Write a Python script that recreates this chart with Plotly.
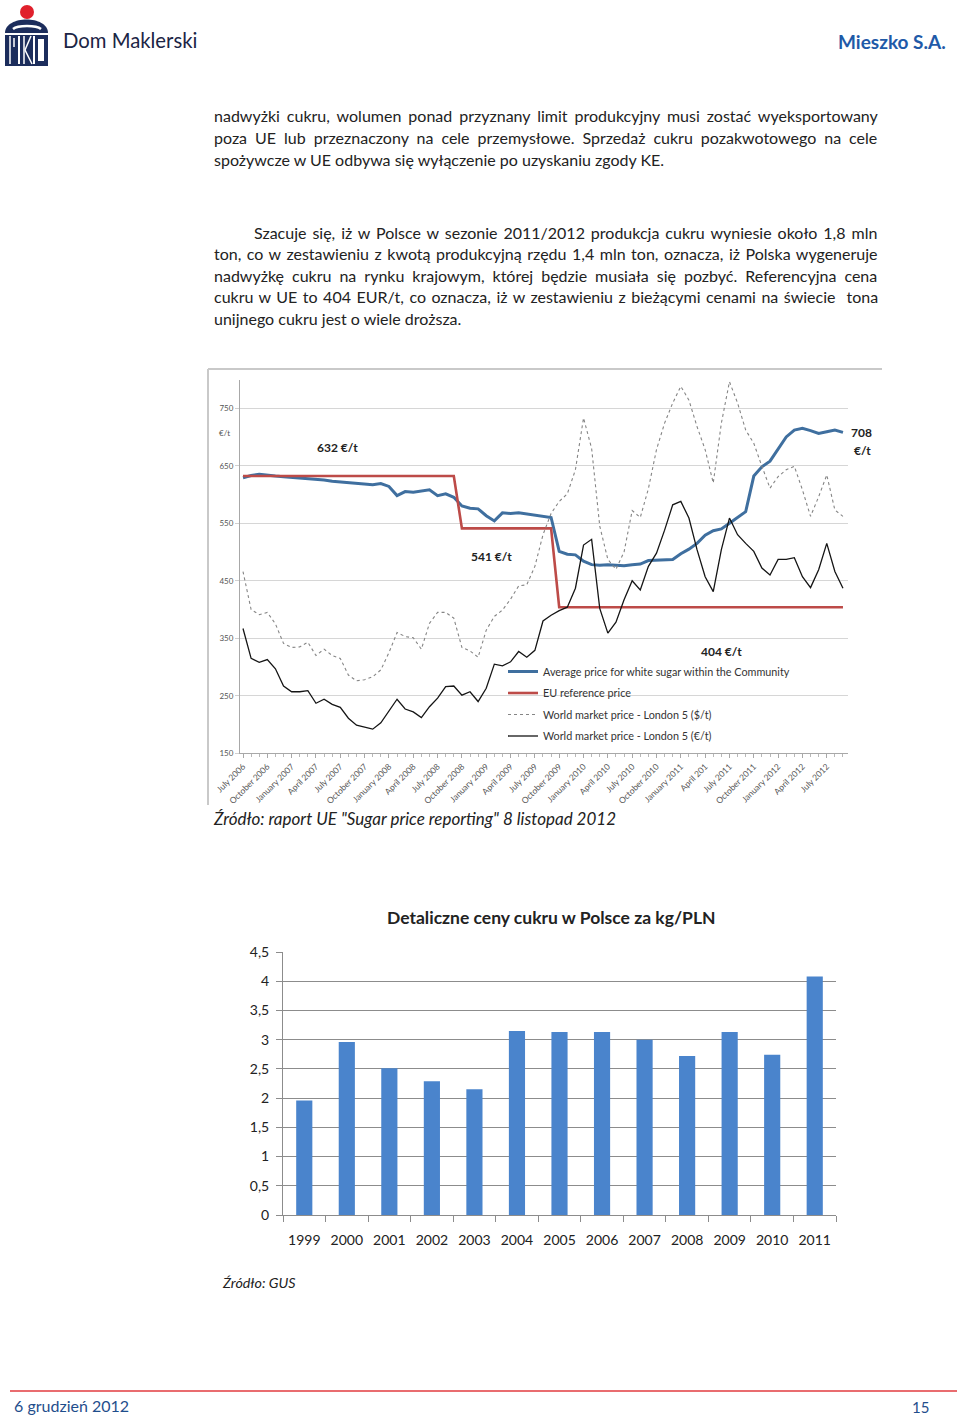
import plotly.graph_objects as go

W, H = 960, 1419

def px(x):
    return x / W

def py(y):
    return 1 - y / H

# ---------------- data: line chart (monthly, July 2006 .. September 2012) ----------------
months = list(range(75))
tick_positions = list(range(0, 73, 3))
tick_labels = ["July 2006", "October 2006", "January 2007", "April 2007", "July 2007",
               "October 2007", "January 2008", "April 2008", "July 2008", "October 2008",
               "January 2009", "April 2009", "July 2009", "October 2009", "January 2010",
               "April 2010", "July 2010", "October 2010", "January 2011", "April 201",
               "July 2011", "October 2011", "January 2012", "April 2012", "July 2012"]

eu_avg_price = [629, 633, 635, 633, 632, 631, 630, 629, 628, 627,
                625, 623, 622, 621, 620, 618, 617, 619, 614, 598,
                605, 604, 606, 608, 598, 601, 595, 580, 576, 575,
                563, 554, 568, 567, 568, 566, 565, 563, 560, 501,
                496, 495, 484, 478, 477, 478, 477, 476, 478, 479,
                485, 486, 487, 487, 497, 505, 515, 529, 537, 540,
                550, 560, 570, 632, 648, 658, 680, 700, 712, 715,
                711, 706, 709, 712, 708]

eu_reference_price = [632] * 27 + [541] * 12 + [404] * 36

world_usd = [466, 400, 391, 395, 375, 341, 334, 335, 343, 320,
             331, 320, 315, 286, 276, 278, 283, 295, 325, 360,
             353, 351, 331, 376, 395, 395, 385, 334, 328, 317,
             364, 388, 399, 418, 441, 443, 475, 530, 567, 588,
             601, 643, 733, 680, 545, 487, 470, 500, 572, 560,
             610, 678, 724, 759, 788, 764, 718, 678, 620, 724,
             796, 759, 712, 689, 649, 611, 631, 643, 649, 608,
             562, 596, 634, 573, 562]

world_eur = [367, 315, 308, 313, 297, 267, 257, 257, 259, 237,
             244, 235, 230, 211, 199, 196, 192, 203, 224, 244,
             227, 222, 212, 231, 246, 266, 267, 251, 257, 240,
             263, 305, 302, 309, 327, 317, 329, 380, 390, 398,
             404, 437, 512, 522, 402, 359, 378, 417, 450, 434,
             475, 498, 538, 582, 588, 559, 504, 457, 431, 504,
             559, 530, 515, 501, 472, 460, 487, 487, 490, 457,
             438, 469, 515, 466, 437]

y_ticks_line = [150, 250, 350, 450, 550, 650, 750]

# ---------------- data: bar chart ----------------
years = ["1999", "2000", "2001", "2002", "2003", "2004", "2005",
         "2006", "2007", "2008", "2009", "2010", "2011"]
retail_prices = [1.96, 2.96, 2.51, 2.29, 2.15, 3.15, 3.13, 3.13, 3.00, 2.72, 3.13, 2.74, 4.08]
bar_ticks = [0, 0.5, 1, 1.5, 2, 2.5, 3, 3.5, 4, 4.5]
bar_tick_text = ["0", "0,5", "1", "1,5", "2", "2,5", "3", "3,5", "4", "4,5"]

# ---------------- page text (line, extra word spacing for justification) ----------------
para1 = [("nadwyżki cukru, wolumen ponad przyznany limit produkcyjny musi zostać wyeksportowany", 2.9),
         ("poza UE lub przeznaczony na cele przemysłowe. Sprzedaż cukru pozakwotowego na cele", 3.9),
         ("spożywcze w UE odbywa się wyłączenie po uzyskaniu zgody KE.", 0)]
para2 = [("Szacuje się, iż w Polsce w sezonie 2011/2012 produkcja cukru wyniesie około 1,8 mln", 1.85),
         ("ton, co w zestawieniu z kwotą produkcyjną rzędu 1,4 mln ton, oznacza, iż Polska wygeneruje", 1.43),
         ("nadwyżkę cukru na rynku krajowym, której będzie musiała się pozbyć. Referencyjna cena", 3.9),
         ("cukru w UE to 404 EUR/t, co oznacza, iż w zestawieniu z bieżącymi cenami na świecie  tona", 1.4),
         ("unijnego cukru jest o wiele droższa.", 0)]

BODY_FONT = "Lato"
fig = go.Figure()

# ---------------- line chart traces ----------------
fig.add_trace(go.Scatter(x=months, y=eu_avg_price, mode="lines",
                         name="Average price for white sugar within the Community",
                         line=dict(color="#3f6f9f", width=3), legendgroup="a",
                         xaxis="x", yaxis="y"))
fig.add_trace(go.Scatter(x=months, y=eu_reference_price, mode="lines",
                         name="EU reference price",
                         line=dict(color="#bd4b48", width=2.6), legendgroup="b",
                         xaxis="x", yaxis="y"))
fig.add_trace(go.Scatter(x=months, y=world_usd, mode="lines",
                         name="World market price - London 5 ($/t)",
                         line=dict(color="#858585", width=1.1, dash="dot"), legendgroup="c",
                         xaxis="x", yaxis="y"))
fig.add_trace(go.Scatter(x=months, y=world_eur, mode="lines",
                         name="World market price - London 5 (€/t)",
                         line=dict(color="#151515", width=1.3), legendgroup="d",
                         xaxis="x", yaxis="y"))

# ---------------- bar chart ----------------
fig.add_trace(go.Bar(x=years, y=retail_prices, marker=dict(color="#4a84cc", line=dict(width=0)),
                     width=0.38, showlegend=False, xaxis="x2", yaxis="y2"))

fig.update_layout(
    width=W, height=H,
    margin=dict(l=0, r=0, t=0, b=0, pad=0, autoexpand=False),
    paper_bgcolor="white", plot_bgcolor="rgba(0,0,0,0)",
    font=dict(family=BODY_FONT, color="#222"),
    showlegend=True,
    legend=dict(x=px(503), y=py(657), xanchor="left", yanchor="top",
                bgcolor="rgba(0,0,0,0)", font=dict(size=10.8, color="#333", family=BODY_FONT),
                tracegroupgap=2.5, itemwidth=30),
    xaxis=dict(domain=[px(240), px(848)], range=[-0.37, 74.62], automargin=False,
               tickmode="array", tickvals=tick_positions, ticktext=tick_labels,
               tickangle=-45, tickfont=dict(size=8.5, color="#555"),
               showline=True, linecolor="#a8a8a8", linewidth=1,
               ticks="outside", ticklen=4, tickcolor="#a8a8a8",
               minor=dict(dtick=1, ticks="outside", ticklen=3, tickcolor="#b8b8b8"),
               showgrid=False, zeroline=False, fixedrange=True),
    yaxis=dict(domain=[py(753.3), py(380)], range=[150, 799], automargin=False,
               tickmode="array", tickvals=y_ticks_line,
               tickfont=dict(size=8, color="#555"),
               showline=True, linecolor="#a8a8a8", linewidth=1,
               ticks="outside", ticklen=4, tickcolor="#d0d0d0",
               showgrid=True, gridcolor="#d6d6d6", gridwidth=1,
               zeroline=False, fixedrange=True),
    xaxis2=dict(domain=[px(283), px(836)], type="category", range=[-0.5, 12.5], automargin=False,
                tickangle=0, tickfont=dict(size=14, color="#222"), ticklabelstandoff=12,
                showline=True, linecolor="#8c8c8c", linewidth=1,
                ticks="outside", tickson="boundaries", ticklen=6, tickcolor="#8c8c8c",
                showgrid=False, zeroline=False, fixedrange=True, anchor="y2"),
    yaxis2=dict(domain=[py(1215), py(952)], range=[0, 4.5], automargin=False,
                tickmode="array", tickvals=bar_ticks, ticktext=bar_tick_text,
                tickfont=dict(size=14, color="#222"), ticklabelstandoff=4,
                showline=True, linecolor="#8c8c8c", linewidth=1,
                ticks="outside", ticklen=6, tickcolor="#8c8c8c",
                showgrid=True, gridcolor="#8c8c8c", gridwidth=1,
                zeroline=False, fixedrange=True, anchor="x2"),
    bargap=0.6,
)

annotations = []

def text(x, y, s, size, color="#222", anchor="left", bold=False, italic=False, family=BODY_FONT, yanchor="middle"):
    if bold:
        s = "<b>" + s + "</b>"
    if italic:
        s = "<i>" + s + "</i>"
    annotations.append(dict(x=px(x), y=py(y), xref="paper", yref="paper", text=s,
                            showarrow=False, xanchor=anchor, yanchor=yanchor,
                            font=dict(size=size, color=color, family=family)))

# header
text(61, 40, "Dom Maklerski", 20.3, color="#1b2545")
text(948, 41, "Mieszko S.A.", 19, color="#1f5aa8", anchor="right", bold=True)

# paragraphs
def body_line(x, y, s, ws):
    if ws > 0:
        s = '<span style="word-spacing:%.2fpx">%s</span>' % (ws, s)
    text(x, y, s, 16)

for k, (line, ws) in enumerate(para1):
    body_line(212, 116 + k * 21.5, line, ws)
for k, (line, ws) in enumerate(para2):
    body_line(252 if k == 0 else 212, 232 + k * 21.5, line, ws)

# line chart annotations
text(224, 433, "€/t", 8, color="#555", anchor="center")
text(337, 447, "632 €/t", 12, anchor="center", bold=True)
text(491, 556, "541 €/t", 12, anchor="center", bold=True)
text(721, 651, "404 €/t", 12, anchor="center", bold=True)
text(861, 432, "708", 12, anchor="center", bold=True)
text(862, 450, "€/t", 12, anchor="center", bold=True)
text(211, 818, "Źródło: raport UE \"Sugar price reporting\" 8 listopad 2012", 17, italic=True)

# bar chart text
text(551, 917, "Detaliczne ceny cukru w Polsce za kg/PLN", 17.5, anchor="center", bold=True)
text(220, 1282, "Źródło: GUS", 14.3, italic=True)

# footer
text(12, 1405, "6 grudzień 2012", 16, color="#1f4e8c")
text(931, 1407, "15", 15, color="#1f4e8c", anchor="right")

fig.update_layout(annotations=annotations)

shapes = []

def pline(x0, y0, x1, y1, color, width):
    shapes.append(dict(type="line", xref="paper", yref="paper",
                       x0=px(x0), y0=py(y0), x1=px(x1), y1=py(y1),
                       line=dict(color=color, width=width)))

# chart image frame
pline(208, 369, 882, 369, "#c9c9c9", 2)
pline(208, 369, 208, 805, "#c9c9c9", 2)

# footer rule
pline(10, 1391, 957, 1391, "#e23b3f", 1.6)

# logo
shapes.append(dict(type="circle", xref="paper", yref="paper",
                   x0=px(20), y0=py(19), x1=px(34), y1=py(5),
                   fillcolor="#e0202c", line=dict(width=0)))

logo_path = "M {a},{b} C {c},{d} {e},{f} {g},{h} L {i},{j} L {k},{l} Z".format(
    a=px(5), b=py(33), c=px(5), d=py(15), e=px(48), f=py(15), g=px(48), h=py(33),
    i=px(48), j=py(66), k=px(5), l=py(66))
shapes.append(dict(type="path", xref="paper", yref="paper", path=logo_path,
                   fillcolor="#1c2d5c", line=dict(width=0)))
slot = "M {a},{b} C {c},{d} {e},{f} {g},{h}".format(
    a=px(13), b=py(29), c=px(18), d=py(25), e=px(36), f=py(25), g=px(41), h=py(29))
shapes.append(dict(type="path", xref="paper", yref="paper", path=slot,
                   line=dict(color="white", width=2.5)))
# white separations forming P K O
pline(5, 34, 48, 34, "white", 2)
pline(10, 36, 10, 64, "white", 1.5)
pline(19, 36, 19, 64, "white", 2)
pline(24, 36, 24, 64, "white", 1.5)
pline(31, 36, 25, 50, "white", 1.5)
pline(25, 50, 32, 64, "white", 1.5)
pline(34, 36, 34, 64, "white", 2)
shapes.append(dict(type="rect", xref="paper", yref="paper",
                   x0=px(38), y0=py(61), x1=px(44), y1=py(39),
                   fillcolor="white", line=dict(width=0)))
pline(14, 38, 14, 47, "white", 1.5)

fig.update_layout(shapes=shapes)

fig.write_html("out.html")
